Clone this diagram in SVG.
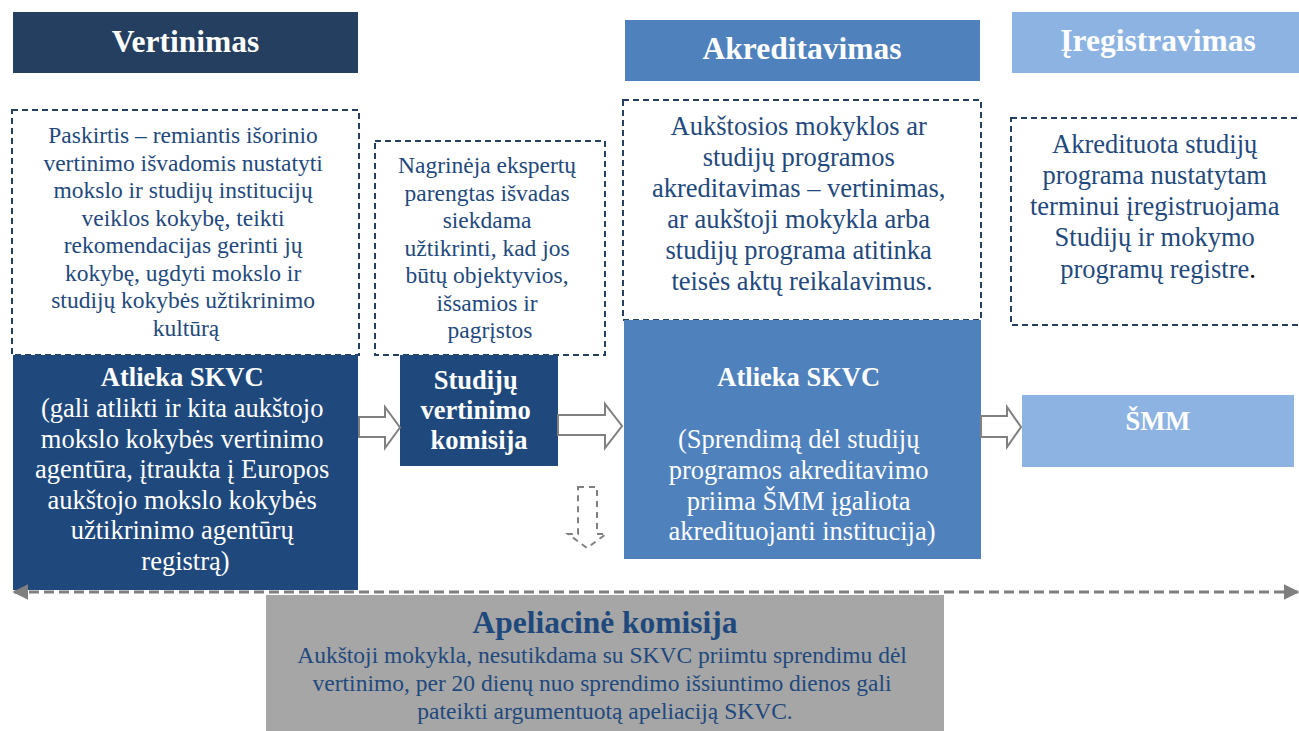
<svg xmlns="http://www.w3.org/2000/svg" width="1299" height="731" viewBox="0 0 1299 731">
<defs>
<style>
text{font-family:"Liberation Serif","Times New Roman",serif;text-anchor:middle}
.hd{font-size:31.5px;font-weight:bold;fill:#ffffff}
.dk{fill:#1f497d}
.wt{fill:#ffffff}
.b{font-weight:bold}
.s1{font-size:23.5px}
.s2{font-size:26.5px}
.dash{fill:#ffffff;stroke:#243f60;stroke-width:2;stroke-dasharray:6 4}
.harrow{fill:#ffffff;stroke:#808080;stroke-width:2}
</style>
<marker id="ah" viewBox="0 0 10 10" refX="9" refY="5" markerWidth="16" markerHeight="16" markerUnits="userSpaceOnUse" orient="auto-start-reverse">
<path d="M0,0 L10,5 L0,10 z" fill="#7f7f7f"/>
</marker>
</defs>

<g id="hdr-vertinimas">
<rect x="13" y="12" width="345" height="61" fill="#243f60"/>
<text class="hd" x="185.5" y="52">Vertinimas</text>
</g>
<g id="hdr-akreditavimas">
<rect x="625" y="20" width="355" height="61" fill="#4f81bd"/>
<text class="hd" x="802" y="59">Akreditavimas</text>
</g>
<g id="hdr-iregistravimas">
<rect x="1012" y="12" width="292" height="61" fill="#8db3e2"/>
<text class="hd" x="1158" y="51">Įregistravimas</text>
</g>

<g id="desc-vertinimas">
<rect class="dash" x="12" y="110" width="347" height="245"/>
<text class="dk s1" x="186">
<tspan x="186" y="143">Paskirtis – remiantis išorinio</tspan>
<tspan x="186" y="170.5">vertinimo išvadomis nustatyti</tspan>
<tspan x="186" y="198">mokslo ir studijų institucijų</tspan>
<tspan x="186" y="225.5">veiklos kokybę, teikti</tspan>
<tspan x="186" y="253">rekomendacijas gerinti jų</tspan>
<tspan x="186" y="280.5">kokybę, ugdyti mokslo ir</tspan>
<tspan x="186" y="308">studijų kokybės užtikrinimo</tspan>
<tspan x="186" y="335.5">kultūrą</tspan>
</text>
</g>

<g id="desc-komisija">
<rect class="dash" x="375" y="141" width="230" height="214"/>
<text class="dk s1" x="490">
<tspan x="490" y="173">Nagrinėja ekspertų</tspan>
<tspan x="490" y="200.5">parengtas išvadas</tspan>
<tspan x="490" y="228">siekdama</tspan>
<tspan x="490" y="255.5">užtikrinti, kad jos</tspan>
<tspan x="490" y="283">būtų objektyvios,</tspan>
<tspan x="490" y="310.5">išsamios ir</tspan>
<tspan x="490" y="338">pagrįstos</tspan>
</text>
</g>

<g id="desc-akreditavimas">
<rect class="dash" x="623" y="100" width="358" height="220"/>
<text class="dk s2" x="802">
<tspan x="802" y="135">Aukštosios mokyklos ar</tspan>
<tspan x="802" y="166">studijų programos</tspan>
<tspan x="802" y="197">akreditavimas – vertinimas,</tspan>
<tspan x="802" y="228">ar aukštoji mokykla arba</tspan>
<tspan x="802" y="259">studijų programa atitinka</tspan>
<tspan x="802" y="290">teisės aktų reikalavimus.</tspan>
</text>
</g>

<g id="desc-iregistravimas">
<rect class="dash" x="1011" y="118" width="295" height="207"/>
<text class="dk s2" x="1158">
<tspan x="1158" y="153">Akredituota studijų</tspan>
<tspan x="1158" y="184">programa nustatytam</tspan>
<tspan x="1158" y="215">terminui įregistruojama</tspan>
<tspan x="1158" y="246">Studijų ir mokymo</tspan>
<tspan x="1158" y="277.5">programų registre<tspan fill="#000000">.</tspan></tspan>
</text>
</g>

<g id="node-skvc">
<rect x="13" y="355" width="345" height="235" fill="#1f497d"/>
<text class="wt s2" x="185.5">
<tspan class="b" x="185.5" y="386">Atlieka SKVC</tspan>
<tspan x="185.5" y="417">(gali atlikti ir kita aukštojo</tspan>
<tspan x="185.5" y="447.5">mokslo kokybės vertinimo</tspan>
<tspan x="185.5" y="478">agentūra, įtraukta į Europos</tspan>
<tspan x="185.5" y="508.5">aukštojo mokslo kokybės</tspan>
<tspan x="185.5" y="539">užtikrinimo agentūrų</tspan>
<tspan x="185.5" y="569.5">registrą)</tspan>
</text>
</g>

<g id="node-komisija">
<rect x="400" y="355" width="158" height="111" fill="#1f497d"/>
<text class="wt s2 b" x="479">
<tspan x="479" y="389">Studijų</tspan>
<tspan x="479" y="419">vertinimo</tspan>
<tspan x="479" y="449">komisija</tspan>
</text>
</g>

<g id="node-akreditavimas">
<rect x="624" y="320" width="357" height="239" fill="#4f81bd"/>
<text class="wt s2" x="802">
<tspan class="b" x="802" y="386">Atlieka SKVC</tspan>
<tspan x="802" y="448">(Sprendimą dėl studijų</tspan>
<tspan x="802" y="478.5">programos akreditavimo</tspan>
<tspan x="802" y="509.5">priima ŠMM įgaliota</tspan>
<tspan x="802" y="540">akredituojanti institucija)</tspan>
</text>
</g>

<g id="node-smm">
<rect x="1022" y="395" width="272" height="72" fill="#8db3e2"/>
<text class="wt s2 b" x="1158" y="430">ŠMM</text>
</g>

<g id="node-apeliacine">
<rect x="266" y="595" width="678" height="136" fill="#a6a6a6"/>
<text class="dk" x="605" y="633" style="font-size:31.5px;font-weight:bold">Apeliacinė komisija</text>
<text class="dk s1" x="605">
<tspan x="605" y="663">Aukštoji mokykla, nesutikdama su SKVC priimtu sprendimu dėl</tspan>
<tspan x="605" y="691">vertinimo, per 20 dienų nuo sprendimo išsiuntimo dienos gali</tspan>
<tspan x="605" y="719">pateikti argumentuotą apeliaciją SKVC.</tspan>
</text>
</g>

<g id="connectors">
<path class="harrow" d="M359,417 H385 V407 L400,427.5 L385,448 V437 H359 Z"/>
<path class="harrow" d="M558,415 H605 V404 L622,426 L605,448 V435 H558 Z"/>
<path class="harrow" d="M981,416 H1007 V407 L1021,427 L1007,447 V437 H981 Z"/>
<path d="M578,487 H597 V534 H606 L587,548 L568,534 H578 Z" fill="none" stroke="#808080" stroke-width="2" stroke-dasharray="6 5"/>
<line x1="14" y1="592" x2="1298" y2="592" stroke="#7f7f7f" stroke-width="3" stroke-dasharray="10 5" marker-start="url(#ah)" marker-end="url(#ah)"/>
</g>
</svg>
